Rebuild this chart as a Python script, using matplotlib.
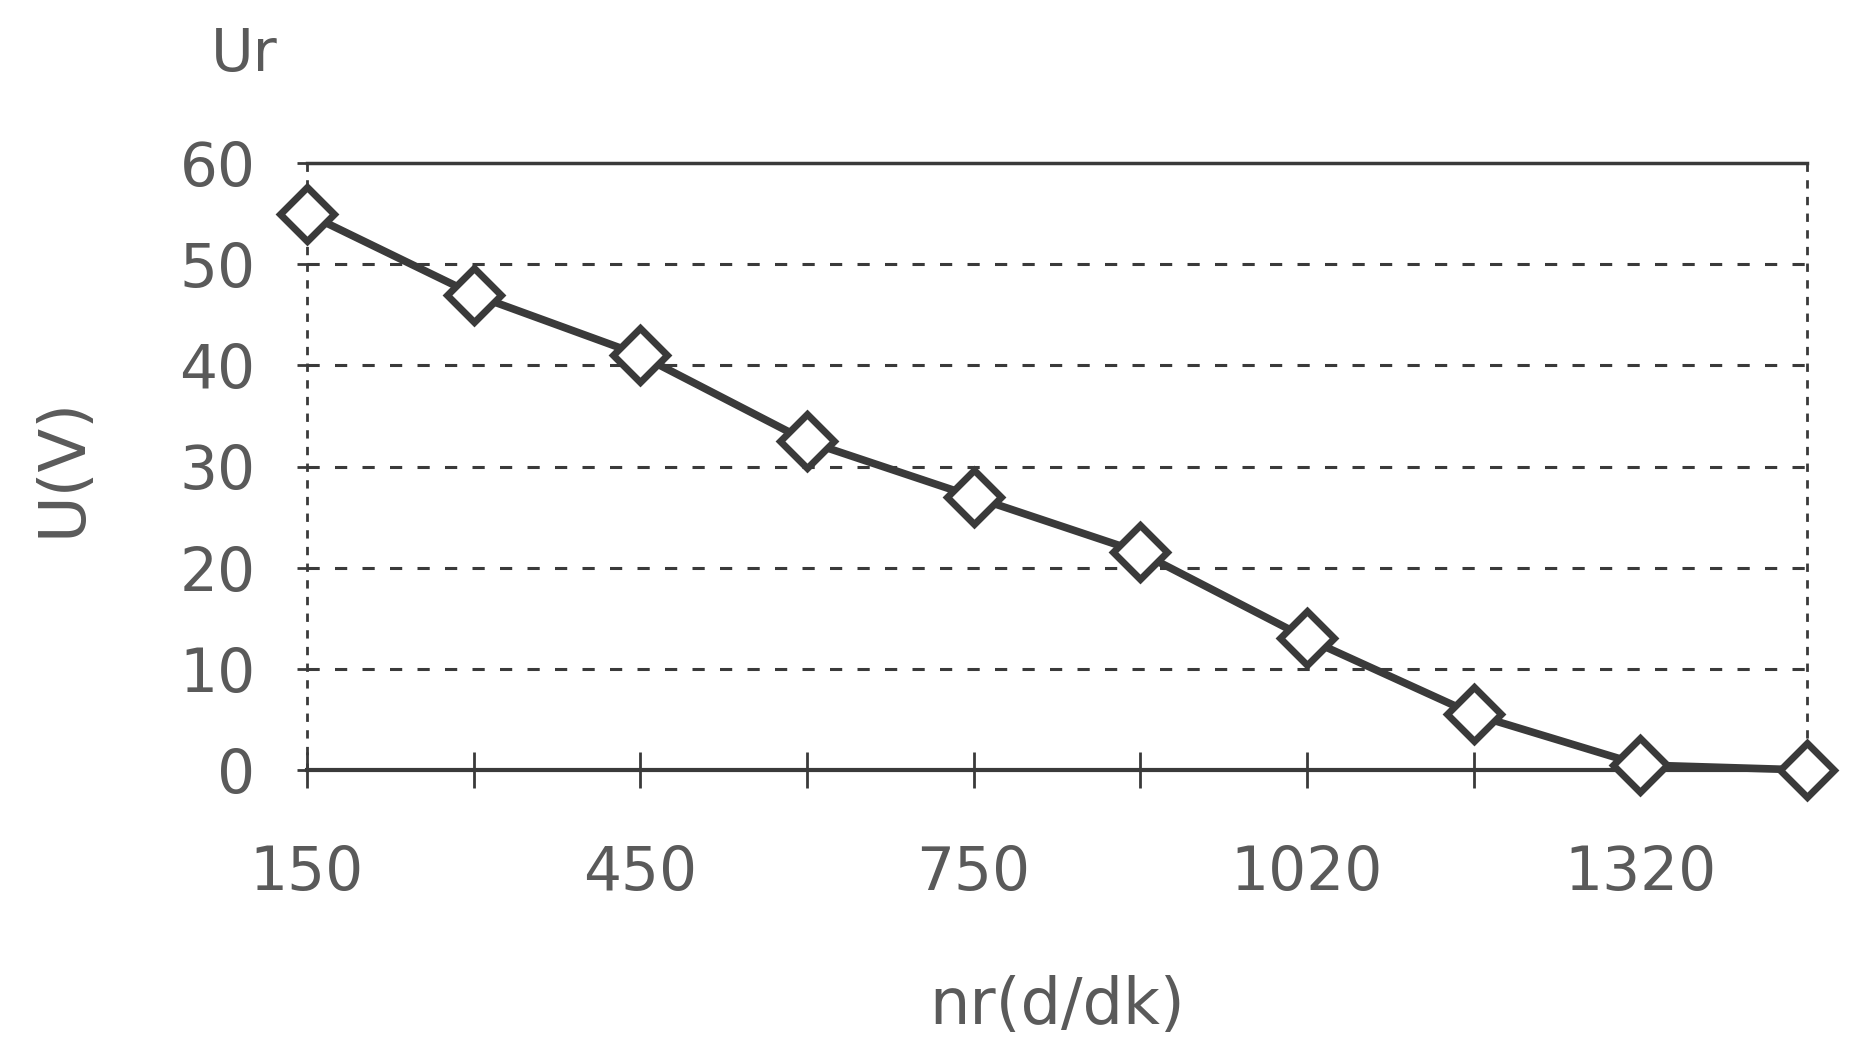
import matplotlib
matplotlib.use("Agg")
import matplotlib.pyplot as plt
import numpy as np

# speed categories (only every other one is labelled)
speeds = ["150", "300", "450", "600", "750", "900", "1020", "1170", "1320", "1470"]
shown = ["150", "", "450", "", "750", "", "1020", "", "1320", ""]
voltage = [55, 47, 41, 32.5, 27, 21.5, 13, 5.5, 0.5, 0]
yticks = [0, 10, 20, 30, 40, 50, 60]

ink = "#3a3a3a"
txt = "#5a5a5a"
font = "DejaVu Sans"

fig = plt.figure(figsize=(18.64, 10.54), dpi=100)
ax = fig.add_axes([307 / 1864, 1 - 770 / 1054, 1500 / 1864, 607 / 1054])

x = np.arange(len(speeds))
ax.plot(x, voltage, color=ink, lw=5.5, marker="D", markersize=27,
        markerfacecolor="white", markeredgecolor=ink, markeredgewidth=5,
        clip_on=False, zorder=5)

ax.set_xlim(0, len(speeds) - 1)
ax.set_ylim(0, 60)
ax.set_yticks(yticks)
ax.set_xticks(x)
ax.set_xticklabels(shown)

# dashed horizontal grid
for v in yticks[1:-1]:
    ax.axhline(v, color=ink, lw=2.2, ls=(0, (4, 5)), zorder=1)

ax.spines["top"].set_color(ink)
ax.spines["top"].set_linewidth(2.5)
ax.spines["bottom"].set_color(ink)
ax.spines["bottom"].set_linewidth(3)
for s in ["left", "right"]:
    ax.spines[s].set_color(ink)
    ax.spines[s].set_linewidth(2)
    ax.spines[s].set_linestyle((0, (2, 4)))

ax.tick_params(axis="x", direction="inout", length=26, width=2, color=ink,
               pad=40, labelsize=43, labelcolor=txt)
ax.tick_params(axis="y", direction="inout", length=14, width=2, color=ink,
               pad=30, labelsize=43, labelcolor=txt)
for lab in ax.get_xticklabels() + ax.get_yticklabels():
    lab.set_family(font)

ax.set_ylabel("U(V)", fontsize=46, color=txt, family=font, labelpad=62)
ax.set_xlabel("nr(d/dk)", fontsize=46, color=txt, family=font, labelpad=52)
fig.text(244 / 1864, 1 - 54 / 1054, "Ur", fontsize=42, color=txt, family=font,
         ha="center", va="center")

fig.savefig("out.png", dpi=100)
